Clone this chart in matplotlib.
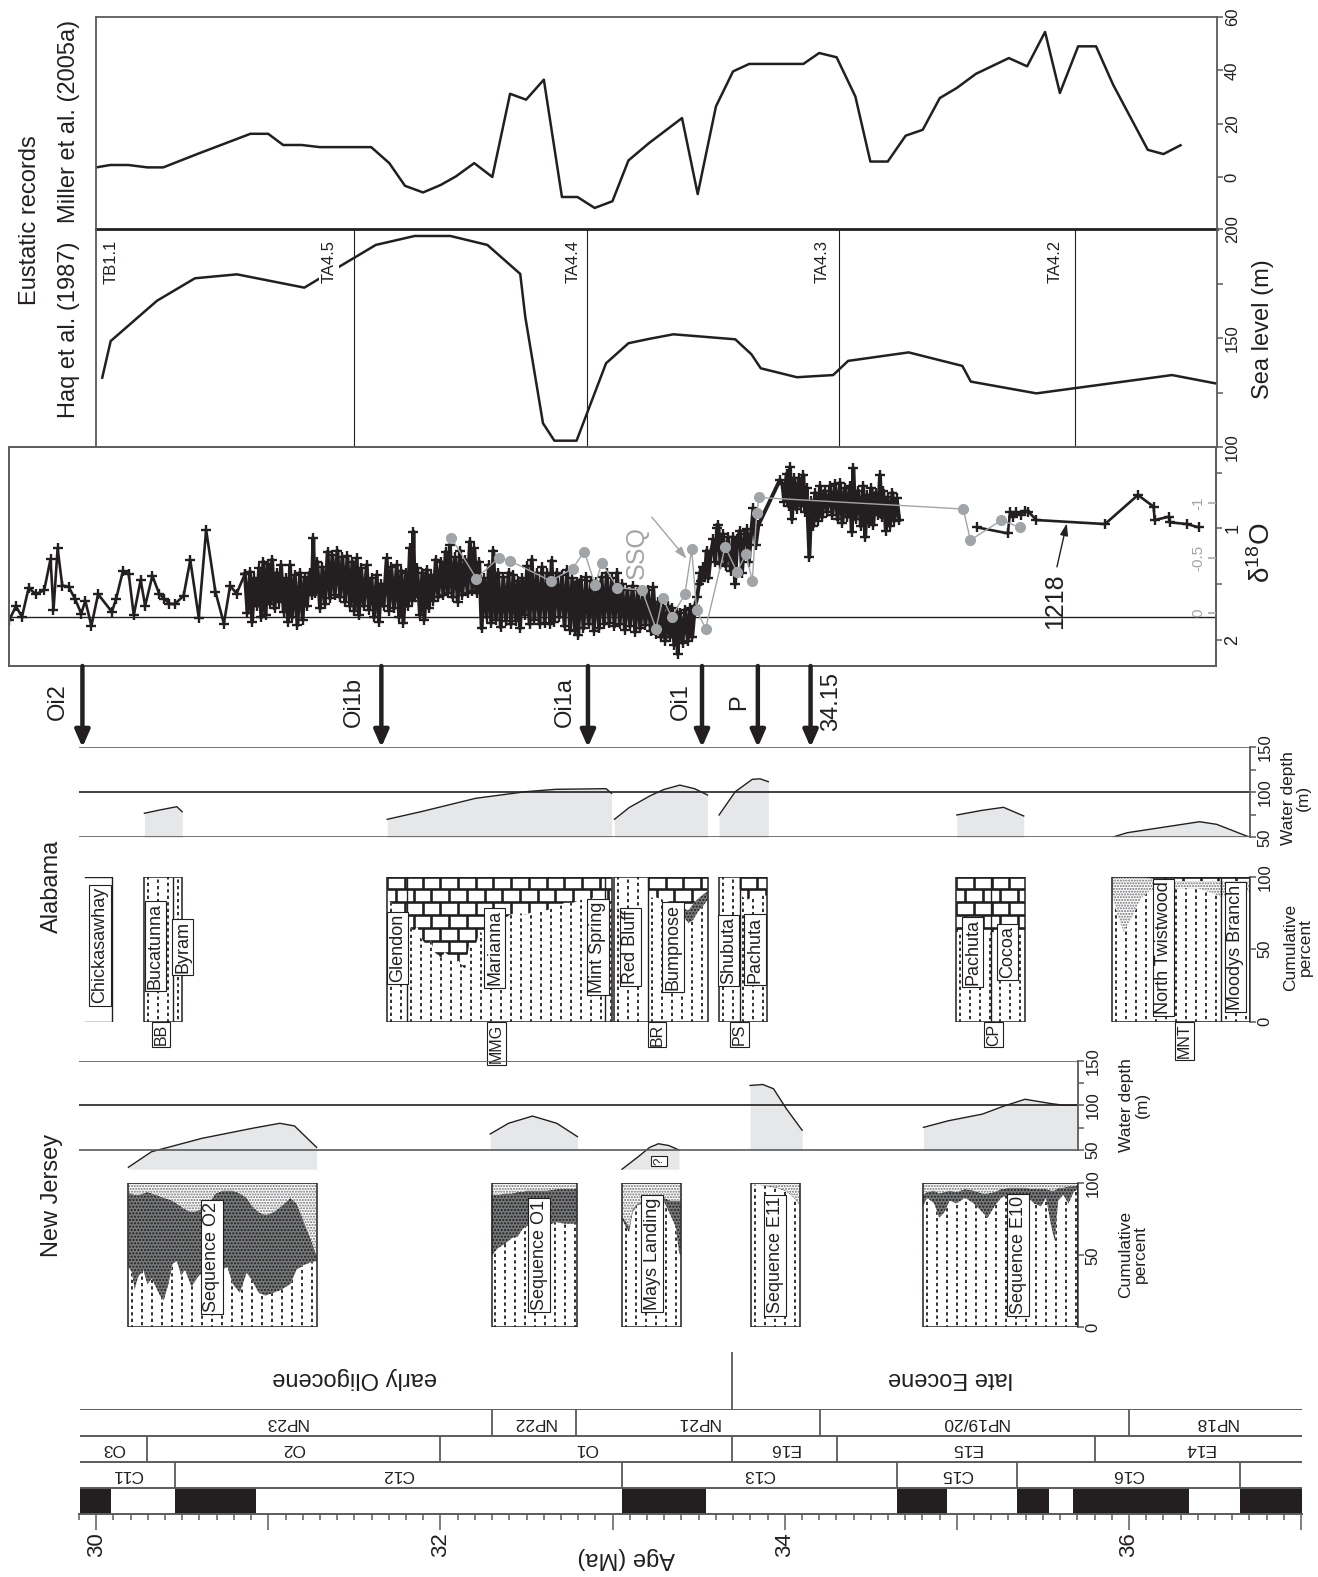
import numpy as np
import matplotlib
matplotlib.use("Agg")
import matplotlib.pyplot as plt
from matplotlib.collections import LineCollection
from matplotlib.patches import Rectangle

plt.rcParams['font.family'] = ['Liberation Sans', 'DejaVu Sans']
plt.rcParams['mathtext.fontset'] = 'custom'
plt.rcParams['mathtext.rm'] = 'Liberation Sans'
plt.rcParams['hatch.linewidth'] = 1.0

INK = '#231f20'
FRAME = '#5a5b5d'
GREY = '#a2a5a8'
SHADE = '#e6e7e8'
GLAUC = '#77787a'

# ---------------- data ----------------
# Miller et al. (2005a) eustatic estimate (m)
miller_age = [30.006, 30.089, 30.194, 30.304, 30.396, 30.597, 30.902, 31.005, 31.092, 31.200,
              31.305, 31.603, 31.708, 31.799, 31.904, 32.006, 32.094, 32.201, 32.306, 32.409,
              32.502, 32.605, 32.710, 32.800, 32.900, 33.003, 33.096, 33.215, 33.407, 33.498,
              33.604, 33.703, 33.797, 34.111, 34.203, 34.304, 34.413, 34.500, 34.601, 34.705,
              34.804, 34.903, 35.002, 35.113, 35.304, 35.410, 35.514, 35.600, 35.706, 35.810,
              35.909, 36.110, 36.201, 36.300]
miller_sl = [3.6, 4.5, 4.5, 3.6, 3.6, 8.7, 16.2, 16.2, 12.0, 12.0,
             11.2, 11.2, 5.2, -3.3, -5.8, -3.0, 0.2, 5.2, 0.0, 31.2,
             29.0, 36.5, -7.5, -7.5, -11.6, -9.1, 6.2, 12.7, 22.1, -6.4,
             26.5, 39.6, 42.4, 42.4, 46.5, 44.9, 30.2, 5.8, 5.8, 15.5,
             17.7, 29.6, 33.4, 38.7, 44.6, 41.5, 54.4, 31.5, 49.0, 49.0,
             34.6, 10.2, 8.6, 11.9]

# Haq et al. (1987) sea level (m)
haq_age = [30.042, 30.091, 30.360, 30.580, 30.824, 31.215, 31.428, 31.630, 31.855, 32.062,
           32.277, 32.468, 32.497, 32.600, 32.666, 32.795, 32.966, 33.096, 33.210, 33.357,
           33.716, 33.810, 33.864, 34.074, 34.284, 34.371, 34.722, 35.034, 35.083, 35.464,
           36.251, 36.522]
haq_sl = [131.8, 148.6, 167.1, 177.4, 179.2, 173.1, 183.2, 192.7, 196.8, 196.8,
          192.7, 179.4, 159.8, 110.9, 102.9, 102.9, 138.4, 147.6, 149.5, 151.7,
          149.4, 142.5, 136.1, 132.0, 133.0, 139.5, 143.4, 137.2, 130.0, 124.6,
          133.0, 128.9]
haq_bounds = [31.503, 32.858, 34.318, 35.688]
haq_names = ['TB1.1', 'TA4.5', 'TA4.4', 'TA4.3', 'TA4.2']
haq_name_age = [30.093, 31.358, 32.774, 34.219, 35.572]

# Site 1218 benthic d18O (age Ma, permil): sparse early part, dense part, late part
site1218_early = [
    (29.502, 1.826), (29.541, 1.700), (29.576, 1.796), (29.615, 1.535), (29.656, 1.592),
    (29.705, 1.556), (29.742, 1.276), (29.759, 1.736), (29.783, 1.180), (29.810, 1.514),
    (29.847, 1.526), (29.883, 1.631), (29.920, 1.766), (29.944, 1.652), (29.979, 1.877),
    (30.018, 1.592), (30.098, 1.751), (30.123, 1.631), (30.162, 1.384), (30.196, 1.414),
    (30.225, 1.781), (30.265, 1.465), (30.291, 1.697), (30.333, 1.426), (30.372, 1.586),
    (30.401, 1.631), (30.431, 1.676), (30.462, 1.682), (30.514, 1.607), (30.553, 1.285),
    (30.602, 1.802), (30.645, 1.015), (30.699, 1.571), (30.748, 1.856), (30.784, 1.517),
    (30.822, 1.586), (30.870, 1.41),
]
site1218_dense = [
    (30.870, 1.41), (30.885, 1.76), (30.900, 1.39), (30.912, 1.84),
    (30.925, 1.45), (30.940, 1.70), (30.952, 1.36), (30.965, 1.80), (30.977, 1.30),
    (30.990, 1.78), (31.003, 1.32), (31.016, 1.68), (31.028, 1.28), (31.042, 1.72),
    (31.055, 1.40), (31.068, 1.66), (31.080, 1.33), (31.095, 1.75), (31.108, 1.45),
    (31.120, 1.84), (31.132, 1.33), (31.145, 1.80), (31.160, 1.42), (31.175, 1.87),
    (31.190, 1.40), (31.205, 1.82), (31.218, 1.44), (31.230, 1.70), (31.245, 1.40),
    (31.258, 1.60), (31.267, 1.09), (31.275, 1.58), (31.290, 1.30), (31.306, 1.72),
    (31.320, 1.35), (31.335, 1.68), (31.350, 1.21), (31.364, 1.63), (31.378, 1.24),
    (31.392, 1.60), (31.407, 1.20), (31.422, 1.62), (31.436, 1.26), (31.451, 1.66),
    (31.465, 1.25), (31.480, 1.70), (31.494, 1.30), (31.506, 1.74), (31.519, 1.27),
    (31.532, 1.78), (31.545, 1.36), (31.560, 1.70), (31.577, 1.33), (31.590, 1.73),
    (31.605, 1.45), (31.620, 1.80), (31.635, 1.42), (31.648, 1.84), (31.660, 1.50),
    (31.675, 1.70), (31.693, 1.27), (31.706, 1.74), (31.720, 1.35), (31.735, 1.72),
    (31.751, 1.33), (31.765, 1.80), (31.778, 1.38), (31.790, 1.85), (31.805, 1.40),
    (31.815, 1.70), (31.828, 1.18), (31.840, 1.65), (31.848, 1.03), (31.856, 1.62),
    (31.870, 1.36), (31.886, 1.78), (31.900, 1.40), (31.912, 1.82), (31.925, 1.37),
    (31.938, 1.72), (31.950, 1.42), (31.964, 1.65), (31.978, 1.28), (31.992, 1.62),
    (32.008, 1.30), (32.022, 1.60), (32.035, 1.21), (32.048, 1.58), (32.060, 1.15),
    (32.075, 1.62), (32.090, 1.26), (32.105, 1.66), (32.118, 1.20), (32.132, 1.60),
    (32.147, 1.28), (32.162, 1.58), (32.176, 1.12), (32.190, 1.56), (32.202, 1.18),
    (32.215, 1.58), (32.230, 1.30), (32.244, 1.90), (32.258, 1.45), (32.273, 1.80),
    (32.286, 1.33), (32.300, 1.85), (32.312, 1.20), (32.326, 1.82), (32.340, 1.40),
    (32.355, 1.89), (32.370, 1.44), (32.385, 1.83), (32.400, 1.40), (32.414, 1.86),
    (32.428, 1.42), (32.442, 1.83), (32.455, 1.47), (32.467, 1.90), (32.480, 1.45),
    (32.494, 1.78), (32.508, 1.34), (32.522, 1.86), (32.535, 1.28), (32.550, 1.82),
    (32.565, 1.40), (32.580, 1.86), (32.595, 1.35), (32.610, 1.85), (32.625, 1.40),
    (32.641, 1.86), (32.650, 1.29), (32.665, 1.84), (32.680, 1.40), (32.695, 1.80),
    (32.710, 1.42), (32.725, 1.88), (32.740, 1.37), (32.757, 1.91), (32.770, 1.45),
    (32.785, 1.92), (32.795, 1.48), (32.805, 1.96), (32.820, 1.46), (32.835, 1.90),
    (32.850, 1.44), (32.865, 1.86), (32.880, 1.47), (32.895, 1.92), (32.910, 1.48),
    (32.925, 1.90), (32.940, 1.44), (32.955, 1.86), (32.970, 1.40), (32.985, 1.85),
    (33.000, 1.45), (33.015, 1.88), (33.030, 1.40), (33.045, 1.86), (33.060, 1.50),
    (33.075, 1.91), (33.090, 1.55), (33.105, 1.88), (33.120, 1.52), (33.135, 1.93),
    (33.150, 1.55), (33.165, 1.90), (33.180, 1.58), (33.195, 1.87), (33.210, 1.55),
    (33.225, 1.92), (33.240, 1.53), (33.255, 1.95), (33.270, 1.66), (33.285, 1.98),
    (33.298, 1.72), (33.310, 2.01), (33.325, 1.70), (33.337, 1.98), (33.350, 1.72),
    (33.362, 2.05), (33.376, 1.75), (33.382, 2.13), (33.395, 1.76), (33.410, 2.03),
    (33.425, 1.73), (33.440, 2.01), (33.453, 1.72), (33.466, 1.98), (33.482, 1.70),
    (33.495, 1.62), (33.505, 1.50), (33.511, 1.40), (33.520, 1.47), (33.531, 1.35),
    (33.540, 1.42), (33.550, 1.20), (33.560, 1.45), (33.575, 1.22), (33.589, 1.10),
    (33.600, 1.30), (33.610, 1.00), (33.618, 0.97), (33.630, 1.32), (33.645, 1.05),
    (33.660, 1.34), (33.675, 1.08), (33.690, 1.38), (33.705, 1.08), (33.715, 1.50),
    (33.728, 1.10), (33.743, 1.02), (33.755, 1.40), (33.770, 1.05), (33.782, 1.01),
    (33.795, 1.30), (33.808, 1.05), (33.821, 0.82), (33.835, 1.15), (33.850, 0.97),
    (33.975, 0.565), (33.990, 0.60), (34.000, 0.76), (34.014, 0.51), (34.025, 0.80),
    (34.034, 0.45), (34.045, 0.92), (34.058, 0.55), (34.072, 0.83), (34.085, 0.55),
    (34.098, 0.80), (34.111, 0.52), (34.122, 0.85), (34.130, 0.64), (34.146, 1.26),
    (34.158, 0.75), (34.169, 0.98), (34.180, 0.68), (34.195, 0.93), (34.208, 0.62),
    (34.220, 0.90), (34.235, 0.66), (34.250, 0.85), (34.266, 0.62), (34.280, 0.88),
    (34.295, 0.60), (34.310, 0.92), (34.324, 0.59), (34.338, 0.95), (34.352, 0.64),
    (34.366, 0.90), (34.380, 0.62), (34.392, 1.03), (34.401, 0.46), (34.415, 0.92),
    (34.430, 0.66), (34.445, 0.98), (34.459, 0.62), (34.470, 1.08), (34.482, 0.70),
    (34.495, 0.95), (34.506, 0.64), (34.517, 0.97), (34.530, 0.68), (34.545, 0.88),
    (34.556, 0.52), (34.565, 0.90), (34.575, 0.66), (34.590, 1.02), (34.600, 0.72),
    (34.614, 0.98), (34.628, 0.68), (34.640, 0.93), (34.653, 0.73), (34.668, 0.925),
]
site1218_late = [
    (35.120, 0.991), (35.298, 1.045), (35.311, 0.850), (35.330, 0.900), (35.345, 0.855),
    (35.373, 0.880), (35.395, 0.840), (35.417, 0.850), (35.464, 0.925), (35.862, 0.961),
    (36.053, 0.700), (36.144, 0.805), (36.150, 0.925), (36.233, 0.895), (36.240, 0.946),
    (36.337, 0.961), (36.406, 0.991),
]
# St. Stephens Quarry (SSQ) d18O, own scale
ssq = [
    (32.067, -0.681), (32.214, -0.310), (32.343, -0.498), (32.409, -0.471), (32.644, -0.288),
    (32.772, -0.400), (32.840, -0.556), (32.903, -0.249), (32.941, -0.453), (33.032, -0.228),
    (33.175, -0.203), (33.256, 0.146), (33.295, -0.128), (33.347, 0.040), (33.424, -0.167),
    (33.463, -0.577), (33.492, -0.021), (33.544, 0.146), (33.657, -0.599), (33.726, -0.370),
    (33.778, -0.533), (33.815, -0.290), (33.840, -0.903), (33.855, -1.048), (35.039, -0.943),
    (35.081, -0.660), (35.261, -0.842), (35.368, -0.775),
]

# isotope events
events = ['Oi2', 'Oi1b', 'Oi1a', 'Oi1', 'P', '34.15']
event_age = [29.927, 31.662, 32.861, 33.523, 33.847, 34.153]

# Alabama water depth (m)
al_wd_bb_age, al_wd_bb = [30.287, 30.380, 30.475, 30.506], [76.7, 80.5, 84.0, 78.4]
al_wd_mmg_age = [31.696, 31.891, 32.209, 32.501, 32.673, 32.966, 32.998]
al_wd_mmg = [70.0, 78.4, 93.3, 100.7, 103.3, 104.0, 98.9]
al_wd_br_age = [33.015, 33.100, 33.221, 33.300, 33.394, 33.480, 33.555]
al_wd_br = [70.0, 83.0, 96.0, 103.0, 108.0, 104.0, 97.0]
al_wd_ps_age = [33.622, 33.716, 33.815, 33.860, 33.908]
al_wd_ps = [74.8, 100.7, 114.4, 115.0, 111.8]
al_wd_cp_age = [35.002, 35.150, 35.273, 35.390]
al_wd_cp = [74.8, 80.0, 83.3, 73.7]
al_wd_mnt_age = [35.904, 35.991, 36.411, 36.510, 36.703]
al_wd_mnt = [50.0, 55.1, 67.3, 64.4, 50.0]

# New Jersey water depth (m)
nj_wd_o2_age = [30.194, 30.328, 30.621, 30.914, 31.073, 31.158, 31.286]
nj_wd_o2 = [30.6, 48.0, 63.1, 74.4, 80.0, 77.0, 53.0]
nj_wd_o1_age = [32.294, 32.400, 32.539, 32.680, 32.800]
nj_wd_o1 = [68.0, 80.0, 88.1, 80.0, 65.0]
nj_wd_ml_age = [33.059, 33.150, 33.220, 33.270, 33.330, 33.389]
nj_wd_ml = [28.4, 42.0, 53.0, 57.0, 55.0, 50.0]
nj_wd_e11_age = [33.802, 33.876, 33.938, 34.012, 34.104]
nj_wd_e11 = [122.5, 123.6, 118.8, 96.5, 72.2]
nj_wd_e10_age = [34.808, 34.952, 35.150, 35.273, 35.398, 35.546, 35.620, 35.706]
nj_wd_e10 = [75.4, 82.8, 90.3, 99.2, 107.0, 102.2, 100.3, 100.3]
nj_wd_base = 28.4

# New Jersey lithology, cumulative percent (quartz top, glauconite top)
nj_o2_age = [30.194, 30.215, 30.230, 30.250, 30.280, 30.304, 30.330, 30.377, 30.400, 30.426,
             30.450, 30.475, 30.500, 30.523, 30.560, 30.597, 30.640, 30.670, 30.700, 30.740,
             30.768, 30.800, 30.841, 30.880, 30.914, 30.950, 30.990, 31.036, 31.080, 31.134,
             31.170, 31.207, 31.250, 31.286]
nj_o2_qtz = [42, 38, 26, 35, 40, 30, 34, 22, 19, 30, 44, 46, 36, 40, 28, 35, 40, 38, 35, 40,
             42, 30, 24, 38, 32, 24, 22, 24, 26, 30, 40, 43, 45, 46]
nj_o2_glc = [93, 93, 92, 92, 93, 94, 93, 91, 90, 89, 88, 86, 84, 82, 80, 81, 84, 88, 93, 95,
             95, 95, 93, 90, 84, 80, 78, 80, 84, 90, 86, 75, 62, 50]
nj_o1_age = [32.302, 32.340, 32.380, 32.420, 32.453, 32.480, 32.502, 32.550, 32.624, 32.680,
             32.722, 32.760, 32.795]
nj_o1_qtz = [50, 55, 58, 62, 63, 68, 70, 72, 71, 73, 72, 72, 72]
nj_o1_glc = [92, 92, 93, 93, 94, 94, 95, 95, 95, 96, 96, 96, 96]
nj_ml_age = [33.059, 33.080, 33.100, 33.120, 33.150, 33.200, 33.250, 33.300, 33.340, 33.370,
             33.390, 33.399]
nj_ml_qtz = [75, 70, 66, 80, 85, 86, 87, 88, 78, 70, 52, 50]
nj_ml_glc = [77, 74, 70, 82, 86, 87, 88, 90, 88, 88, 88, 88]
nj_e11_age = [33.807, 33.850, 33.900, 33.950, 34.000, 34.040, 34.070, 34.092]
nj_e11_qtz = [99, 99, 98, 97, 95, 92, 88, 85]
nj_e11_glc = [99, 99, 98.5, 97.5, 95.5, 92.5, 88.5, 85.5]
nj_e10_age = [34.804, 34.830, 34.870, 34.900, 34.930, 34.960, 35.000, 35.050, 35.100, 35.150,
              35.180, 35.220, 35.260, 35.300, 35.350, 35.400, 35.450, 35.490, 35.520, 35.550,
              35.570, 35.590, 35.620, 35.650, 35.680, 35.706]
nj_e10_qtz = [84, 90, 86, 76, 80, 88, 86, 90, 86, 80, 76, 84, 90, 92, 90, 92, 86, 84, 90, 70,
              60, 88, 92, 86, 94, 96]
nj_e10_glc = [92, 94, 95, 93, 94, 95, 94, 96, 95, 93, 93, 94, 96, 97, 97, 97, 96, 96, 96, 95,
              95, 97, 97, 98, 98, 99]
nj_names = ['Sequence O2', 'Sequence O1', 'Mays Landing', 'Sequence E11', 'Sequence E10']
nj_name_age = [30.679, 32.577, 33.233, 33.947, 35.357]
nj_name_pct = [48.9, 50.1, 51.3, 50.1, 50.1]

# Alabama lithology, cumulative percent (top of clastic / marl)
al_chick = (29.944, 30.096)
al_bb_age, al_bb_top = [30.287, 30.506], [100, 100]
al_bb_split = [30.450]
al_mmg_age = [31.696, 31.720, 31.745, 31.780, 31.813, 31.850, 31.870, 31.890, 31.930, 31.950,
              31.970, 32.010, 32.030, 32.050, 32.080, 32.110, 32.148, 32.170, 32.200, 32.233,
              32.260, 32.300, 32.331, 32.370, 32.410, 32.453, 32.500, 32.550, 32.600, 32.650,
              32.700, 32.722, 32.770, 32.820, 32.870, 32.917, 32.959, 32.998]
al_mmg_top = [84, 82, 78, 72, 68, 62, 66, 58, 52, 56, 48, 44, 48, 46, 40, 42, 36, 52, 50, 62,
              60, 68, 72, 70, 74, 75, 74, 76, 76, 78, 80, 82, 82, 84, 85, 86, 80, 80]
al_mmg_split = [31.813, 32.959]
al_rb_age, al_rb_top = [33.015, 33.209], [100, 100]
al_bu_age = [33.209, 33.250, 33.300, 33.350, 33.394, 33.420, 33.444, 33.470, 33.500, 33.530, 33.555]
al_bu_top = [85, 86, 84, 82, 80, 72, 68, 70, 76, 80, 84]
al_bu_glc = [85, 86, 84, 82, 80, 78, 77, 81, 85, 88, 90]
al_sh_age, al_sh_top = [33.622, 33.741], [100, 100]
al_pa_age, al_pa_top = [33.741, 33.780, 33.820, 33.860, 33.900], [88, 84, 86, 87, 87]
al_cp_age = [34.998, 35.050, 35.100, 35.150, 35.190, 35.200, 35.250, 35.300, 35.350, 35.398]
al_cp_top = [62, 61, 61, 60, 59, 62, 61, 60, 61, 61]
al_cp_split = [35.200]
al_mnt_age = [35.904, 35.930, 35.950, 35.970, 35.990, 36.020, 36.050, 36.080, 36.120, 36.200,
              36.300, 36.400, 36.450, 36.500, 36.535, 36.600, 36.703]
al_mnt_top = [88, 75, 68, 62, 66, 72, 80, 86, 90, 91, 92, 92, 90, 88, 86, 88, 90]
al_mnt_stp = [100, 100, 100, 100, 100, 100, 100, 100, 99, 97, 97, 97, 97, 97, 97, 97, 97]
al_mnt_split = [36.535]
al_names = ['Chickasawhay', 'Bucatunna', 'Byram', 'Glendon', 'Marianna', 'Mint Spring',
            'Red Bluff', 'Bumpnose', 'Shubuta', 'Pachuta', 'Pachuta', 'Cocoa',
            'North Twistwood', 'Moodys Branch']
al_name_age = [30.029, 30.350, 30.508, 31.757, 32.319, 32.919, 33.108, 33.354, 33.676, 33.831,
               35.094, 35.296, 36.201, 36.621]
al_name_pct = [52.6, 52.1, 51.4, 50.9, 50.9, 51.4, 51.4, 51.4, 49.0, 49.7, 48.0, 48.0, 51.4, 51.4]
al_groups = ['BB', 'MMG', 'BR', 'PS', 'CP', 'MNT']
al_group_age = [30.383, 32.331, 33.262, 33.740, 35.215, 36.324]

# time scale
np_names = ['NP23', 'NP22', 'NP21', 'NP19/20', 'NP18']
np_bounds = [32.302, 32.790, 34.203, 36.003]
pf_names = ['O3', 'O2', 'O1', 'E16', 'E15', 'E14']
pf_bounds = [30.294, 31.996, 33.696, 34.302, 35.805]
chron_names = ['C11', 'C12', 'C13', 'C15', 'C16', '']
chron_bounds = [30.457, 33.056, 34.651, 35.348, 36.646]
polarity_normal = [(29.907, 30.084), (30.457, 30.929), (33.056, 33.543), (34.651, 34.942),
                   (35.348, 35.538), (35.677, 36.347), (36.643, 37.005)]
epoch_names = ['early Oligocene', 'late Eocene']
epoch_label_age = [31.505, 34.965]
epoch_boundary = 33.695

# ---------------- layout ----------------
W, H = 1318, 1577
fig = plt.figure(figsize=(W / 100, H / 100), dpi=100)
PX30, PXMA = 95.0, 172.3   # pixel of 30 Ma, pixels per Myr


def age_at(px):
    return 30 + (px - PX30) / PXMA


def panel(x0, y0, x1, y1, ylim):
    ax = fig.add_axes([x0 / W, 1 - y1 / H, (x1 - x0) / W, (y1 - y0) / H])
    ax.set_xlim(age_at(x0), age_at(x1))
    ax.set_ylim(*ylim)
    ax.patch.set_alpha(0)
    return ax


def ftext(x, y, s, **kw):
    kw.setdefault('color', INK)
    fig.text(x / W, 1 - y / H, s, **kw)


def right_axis(ax, major, labels, minor=(), size=12, spine=True):
    for side in ['left', 'top', 'bottom']:
        ax.spines[side].set_visible(False)
    ax.spines['right'].set_visible(spine)
    ax.spines['right'].set_color(FRAME)
    ax.spines['right'].set_linewidth(1.3)
    ax.yaxis.tick_right()
    ax.set_yticks(major)
    ax.set_yticklabels(labels, rotation=90, va='center', ha='left', fontsize=size, color=INK)
    ax.set_yticks(list(minor), minor=True)
    ax.tick_params(axis='y', which='both', direction='out', length=4, width=1.1,
                   color=FRAME, pad=1.5)
    ax.set_xticks([])


def clip_to(artist, poly, ax):
    artist.set_clip_path(poly.get_paths()[0], ax.transData)


def quartz(ax, x, lo, hi):
    poly = ax.fill_between(x, lo, hi, facecolor='white', lw=0)
    cols = np.arange(x[0] + 0.022, x[-1], 0.058)
    for k, off in enumerate([0.0, 1.8]):
        lc = ax.vlines(cols[k::2], -5, 105, colors=INK, lw=1.3,
                       linestyles=[(off, (1.8, 1.8))])
        clip_to(lc, poly, ax)


def stipple(ax, x, lo, hi, dark):
    if dark:
        ax.fill_between(x, lo, hi, facecolor=GLAUC, edgecolor='#1e1e1e', lw=0, hatch='.....')
    else:
        ax.fill_between(x, lo, hi, facecolor='white', edgecolor='#6d6e71', lw=0, hatch='......')


def brick(ax, x, lo, hi=100):
    poly = ax.fill_between(x, lo, hi, facecolor='white', lw=0)
    bw, bh = 17.7 / PXMA, 8.8
    segs, y, k = [], hi, 0
    while y > min(lo) - bh:
        segs.append([(x[0], y), (x[-1], y)])
        xv = x[0] + (bw / 2 if k % 2 else 0)
        while xv <= x[-1]:
            segs.append([(xv, y), (xv, y - bh)])
            xv += bw
        y -= bh
        k += 1
    lc = LineCollection(segs, colors=INK, linewidths=1.9)
    ax.add_collection(lc, autolim=False)
    clip_to(lc, poly, ax)


def outline(ax, x0, x1, splits=()):
    ax.add_patch(Rectangle((x0, 0), x1 - x0, 100, fill=False, ec=INK, lw=1.1, zorder=4))
    if splits:
        ax.vlines(splits, 0, 100, colors=INK, lw=1.0, zorder=4)


BOX = dict(boxstyle='square,pad=0.12', fc='white', ec=INK, lw=0.8)

# ---- Miller et al. panel ----
ax_m = panel(96, 17, 1217, 229, (-19.5, 60))
ax_m.plot(miller_age, miller_sl, color=INK, lw=1.8)
right_axis(ax_m, [0, 20, 40, 60], ['0', '20', '40', '60'])
for side in ['left', 'top', 'bottom']:
    ax_m.spines[side].set_visible(True)
    ax_m.spines[side].set_color(FRAME)
    ax_m.spines[side].set_linewidth(1.3)
ax_m.spines['bottom'].set_linewidth(2.0)
ax_m.spines['bottom'].set_color(INK)

# ---- Haq et al. panel ----
ax_h = panel(96, 229, 1217, 447, (100, 200))
ax_h.vlines(haq_bounds, 100, 200, colors=INK, lw=0.8)
ax_h.plot(haq_age, haq_sl, color=INK, lw=1.8)
right_axis(ax_h, [100, 150, 200], ['100', '150', '200'], minor=[125, 175])
ax_h.spines['left'].set_visible(True)
ax_h.spines['left'].set_color(FRAME)
ax_h.spines['left'].set_linewidth(1.3)
for name, a in zip(haq_names, haq_name_age):
    ax_h.text(a, 195, name, rotation=90, ha='center', va='top', fontsize=12, color=INK,
              bbox=dict(boxstyle='square,pad=0.15', fc='white', ec='none'), zorder=5)

# ---- d18O panel ----
ax_d = panel(9, 447, 1216, 666, (2.238, 0.268))
ax_q = ax_d.twinx()
ax_q.set_ylim(0.487, -1.508)

ax_d.axhline(1.80, color=INK, lw=1.0)
for part, lw in [(site1218_early, 1.9), (site1218_dense, 2.8), (site1218_late, 1.9)]:
    s = np.array(part)
    ax_d.plot(s[:, 0], s[:, 1], color=INK, lw=lw, marker='+', ms=7.5, mew=1.7)
for side in ax_d.spines.values():
    side.set_color(FRAME)
    side.set_linewidth(1.4)
ax_d.set_xticks([])
ax_d.set_yticks([0.5, 1, 1.5, 2])
ax_d.set_yticklabels(['', '1', '', '2'], rotation=90, va='center', ha='left', fontsize=13,
                     color=INK)
ax_d.tick_params(axis='y', direction='out', length=4, width=1.1, color=FRAME, pad=2,
                 left=False, labelleft=False, right=True, labelright=True)

sq = np.array(ssq)
ax_q.plot(sq[:, 0], sq[:, 1], color=GREY, lw=1.0, marker='o', ms=7, mec=GREY, mfc=GREY)
for side in ax_q.spines.values():
    side.set_visible(False)
ax_q.set_yticks([-1, -0.5, 0])
ax_q.tick_params(axis='y', direction='in', length=6, width=1.1, color=GREY,
                 labelright=False, left=False, labelleft=False)
for v, s in zip([-1, -0.5, 0], ['-1', '-0.5', '0']):
    ax_q.text(0.985, v, s, transform=ax_q.get_yaxis_transform(), rotation=90,
              ha='center', va='center', fontsize=11, color=GREY)
ax_q.text(33.146, -0.55, 'SSQ', rotation=90, ha='center', va='center', fontsize=18, color=GREY)
ax_q.annotate('', xy=(33.433, -0.49), xytext=(33.231, -0.87),
              arrowprops=dict(arrowstyle='-|>,head_length=0.6,head_width=0.2', color=GREY,
                              lw=1.0, mutation_scale=12, shrinkA=0, shrinkB=0))
ax_d.text(35.570, 1.653, '1218', rotation=90, ha='center', va='center', fontsize=18, color=INK)
ax_d.annotate('', xy=(35.640, 0.955), xytext=(35.583, 1.346),
              arrowprops=dict(arrowstyle='-|>,head_length=0.6,head_width=0.2', color=INK,
                              lw=1.0, mutation_scale=12, shrinkA=0, shrinkB=0))

# ---- isotope event arrows ----
ax_a = panel(9, 666, 1216, 747.3, (0, 1))
ax_a.axis('off')
label_shift_px = [-25, -27, -23, -21.5, -19, 21]
for name, a, dx in zip(events, event_age, label_shift_px):
    ax_a.annotate('', xy=(a, 0.0), xytext=(a, 1.0),
                  arrowprops=dict(arrowstyle='-|>,head_length=0.5,head_width=0.22', lw=3.2,
                                  color=INK, mutation_scale=20, shrinkA=0, shrinkB=0))
    ax_a.text(a + dx / PXMA, 0.56, name, rotation=90, ha='center', va='center',
              fontsize=17, color=INK)

# ---- Alabama water depth ----
ax_awd = panel(79, 747.3, 1250, 837.3, (50, 150))
for ages, wd in [(al_wd_bb_age, al_wd_bb), (al_wd_mmg_age, al_wd_mmg), (al_wd_br_age, al_wd_br),
                 (al_wd_ps_age, al_wd_ps), (al_wd_cp_age, al_wd_cp), (al_wd_mnt_age, al_wd_mnt)]:
    ax_awd.fill_between(ages, 50, wd, color=SHADE, lw=0)
    ax_awd.plot(ages, wd, color=INK, lw=1.0)
for lv in (50, 100, 150):
    ax_awd.axhline(lv, color=INK if lv == 100 else FRAME, lw=1.2)
right_axis(ax_awd, [50, 100, 150], ['50', '100', '150'], minor=[75, 125])

# ---- Alabama lithology ----
ax_ac = panel(79, 876.7, 1250, 1021.7, (0, 100))
right_axis(ax_ac, [0, 50, 100], ['0', '50', '100'])
ax_ac.plot([al_chick[0], al_chick[1], al_chick[1], al_chick[0]], [100, 100, 0, 0], color=INK, lw=1.0)
quartz(ax_ac, al_bb_age, 0, al_bb_top)
outline(ax_ac, al_bb_age[0], al_bb_age[-1], al_bb_split)
quartz(ax_ac, al_mmg_age, 0, al_mmg_top)
brick(ax_ac, al_mmg_age, al_mmg_top)
outline(ax_ac, al_mmg_age[0], al_mmg_age[-1], al_mmg_split)
quartz(ax_ac, al_rb_age, 0, al_rb_top)
quartz(ax_ac, al_bu_age, 0, al_bu_top)
stipple(ax_ac, al_bu_age, al_bu_top, al_bu_glc, True)
brick(ax_ac, al_bu_age, al_bu_glc)
outline(ax_ac, al_rb_age[0], al_bu_age[-1], [al_rb_age[-1]])
quartz(ax_ac, al_sh_age, 0, al_sh_top)
quartz(ax_ac, al_pa_age, 0, al_pa_top)
brick(ax_ac, al_pa_age, al_pa_top)
outline(ax_ac, al_sh_age[0], al_pa_age[-1], [al_sh_age[-1]])
quartz(ax_ac, al_cp_age, 0, al_cp_top)
brick(ax_ac, al_cp_age, al_cp_top)
outline(ax_ac, al_cp_age[0], al_cp_age[-1], al_cp_split)
quartz(ax_ac, al_mnt_age, 0, al_mnt_top)
stipple(ax_ac, al_mnt_age, al_mnt_top, al_mnt_stp, False)
brick(ax_ac, al_mnt_age, al_mnt_stp)
outline(ax_ac, al_mnt_age[0], al_mnt_age[-1], al_mnt_split)
for name, a, p in zip(al_names, al_name_age, al_name_pct):
    ax_ac.text(a, p, name, rotation=90, ha='center', va='center', fontsize=13, color=INK,
               bbox=BOX, zorder=6)
for name, a in zip(al_groups, al_group_age):
    ax_ac.text(a, -1.2, name, rotation=90, ha='center', va='top', fontsize=11.5, color=INK,
               bbox=BOX, zorder=6, clip_on=False)

# ---- New Jersey water depth ----
ax_nwd = panel(79, 1061, 1078, 1170, (27.5, 150))
for ages, wd, base in [(nj_wd_o2_age, nj_wd_o2, nj_wd_base), (nj_wd_o1_age, nj_wd_o1, 50),
                       (nj_wd_ml_age, nj_wd_ml, nj_wd_base), (nj_wd_e11_age, nj_wd_e11, 50),
                       (nj_wd_e10_age, nj_wd_e10, 50)]:
    ax_nwd.fill_between(ages, base, wd, color=SHADE, lw=0)
    ax_nwd.plot(ages, wd, color=INK, lw=1.0)
for lv in (50, 100, 150):
    ax_nwd.axhline(lv, color=INK if lv == 100 else FRAME, lw=1.2)
right_axis(ax_nwd, [50, 100, 150], ['50', '100', '150'], minor=[75, 125])
ax_nwd.spines['right'].set_bounds(50, 150)
ax_nwd.text(33.273, 37.7, '?', rotation=90, ha='center', va='center', fontsize=9.5,
            color=INK, bbox=BOX)

# ---- New Jersey lithology ----
ax_nc = panel(79, 1183.3, 1078, 1327.3, (0, 100))
right_axis(ax_nc, [0, 50, 100], ['0', '50', '100'])
for ages, qtz, glc in [(nj_o2_age, nj_o2_qtz, nj_o2_glc), (nj_o1_age, nj_o1_qtz, nj_o1_glc),
                       (nj_ml_age, nj_ml_qtz, nj_ml_glc), (nj_e11_age, nj_e11_qtz, nj_e11_glc),
                       (nj_e10_age, nj_e10_qtz, nj_e10_glc)]:
    quartz(ax_nc, ages, 0, qtz)
    stipple(ax_nc, ages, qtz, glc, True)
    stipple(ax_nc, ages, glc, 100, False)
    outline(ax_nc, ages[0], ages[-1])
for name, a, p in zip(nj_names, nj_name_age, nj_name_pct):
    ax_nc.text(a, p, name, rotation=90, ha='center', va='center', fontsize=13, color=INK,
               bbox=BOX, zorder=6)

# ---- epochs ----
ax_e = panel(79, 1351.7, 1302, 1409.3, (0, 1))
ax_e.axis('off')
ax_e.vlines(epoch_boundary, 0, 1, colors=FRAME, lw=1.3)
for name, a in zip(epoch_names, epoch_label_age):
    ax_e.text(a, 0.55, name, rotation=180, ha='center', va='center', fontsize=17, color=INK)

# ---- zones, chrons and polarity ----
ax_s = panel(79, 1409.3, 1302, 1514.3, (0, 4))
x0, x1 = ax_s.get_xlim()
for side in ['left', 'right', 'top']:
    ax_s.spines[side].set_visible(False)
ax_s.spines['bottom'].set_color(FRAME)
ax_s.spines['bottom'].set_linewidth(1.4)
ax_s.hlines([1, 2, 3, 4], x0, x1, colors=FRAME, lw=1.4)
ax_s.broken_barh([(a, b - a) for a, b in polarity_normal], (0, 1), facecolors=INK, lw=0)
for names, bounds, row in [(np_names, np_bounds, 3), (pf_names, pf_bounds, 2),
                           (chron_names, chron_bounds, 1)]:
    ax_s.vlines(bounds, row, row + 1, colors=FRAME, lw=1.3)
    edges = [x0] + bounds + [x1]
    for name, a, b in zip(names, edges[:-1], edges[1:]):
        ax_s.text((a + b) / 2, row + 0.5, name, rotation=180, ha='center', va='center',
                  fontsize=12.5, color=INK)
ax_s.set_yticks([])
ax_s.set_xticks(range(30, 38))
ax_s.set_xticklabels(['30', '', '32', '', '34', '', '36', ''], rotation=90, fontsize=16,
                     color=INK)
ax_s.set_xticks(np.arange(29.9, 37.05, 0.1), minor=True)
ax_s.tick_params(axis='x', which='major', length=11.5, width=1.1, color=FRAME, pad=1.5)
ax_s.tick_params(axis='x', which='minor', length=4.3, width=1.1, color=FRAME)

# ---- figure labels ----
ftext(30.5, 220, 'Eustatic records', rotation=90, ha='center', va='center', fontsize=17)
ftext(68.5, 121, 'Miller et al. (2005a)', rotation=90, ha='center', va='center', fontsize=17)
ftext(68.5, 330, 'Haq et al. (1987)', rotation=90, ha='center', va='center', fontsize=17)
ftext(1263, 329, 'Sea level (m)', rotation=90, ha='center', va='center', fontsize=17)
ftext(1262, 553, r'$\mathregular{\delta^{18}O}$', rotation=90, ha='center', va='center',
      fontsize=20)
ftext(52, 886, 'Alabama', rotation=90, ha='center', va='center', fontsize=17)
ftext(52, 1195, 'New Jersey', rotation=90, ha='center', va='center', fontsize=17)
ftext(1296, 798, 'Water depth\n(m)', rotation=90, ha='center', va='center', fontsize=12.5,
      multialignment='center', linespacing=1.0)
ftext(1298, 947, 'Cumulative\npercent', rotation=90, ha='center', va='center', fontsize=12.5,
      multialignment='center', linespacing=1.0)
ftext(1134.5, 1105, 'Water depth\n(m)', rotation=90, ha='center', va='center', fontsize=12.5,
      multialignment='center', linespacing=1.0)
ftext(1133, 1254, 'Cumulative\npercent', rotation=90, ha='center', va='center', fontsize=12.5,
      multialignment='center', linespacing=1.0)
ftext(626, 1558, 'Age (Ma)', rotation=180, ha='center', va='center', fontsize=17)

fig.savefig('out.png', dpi=100)
